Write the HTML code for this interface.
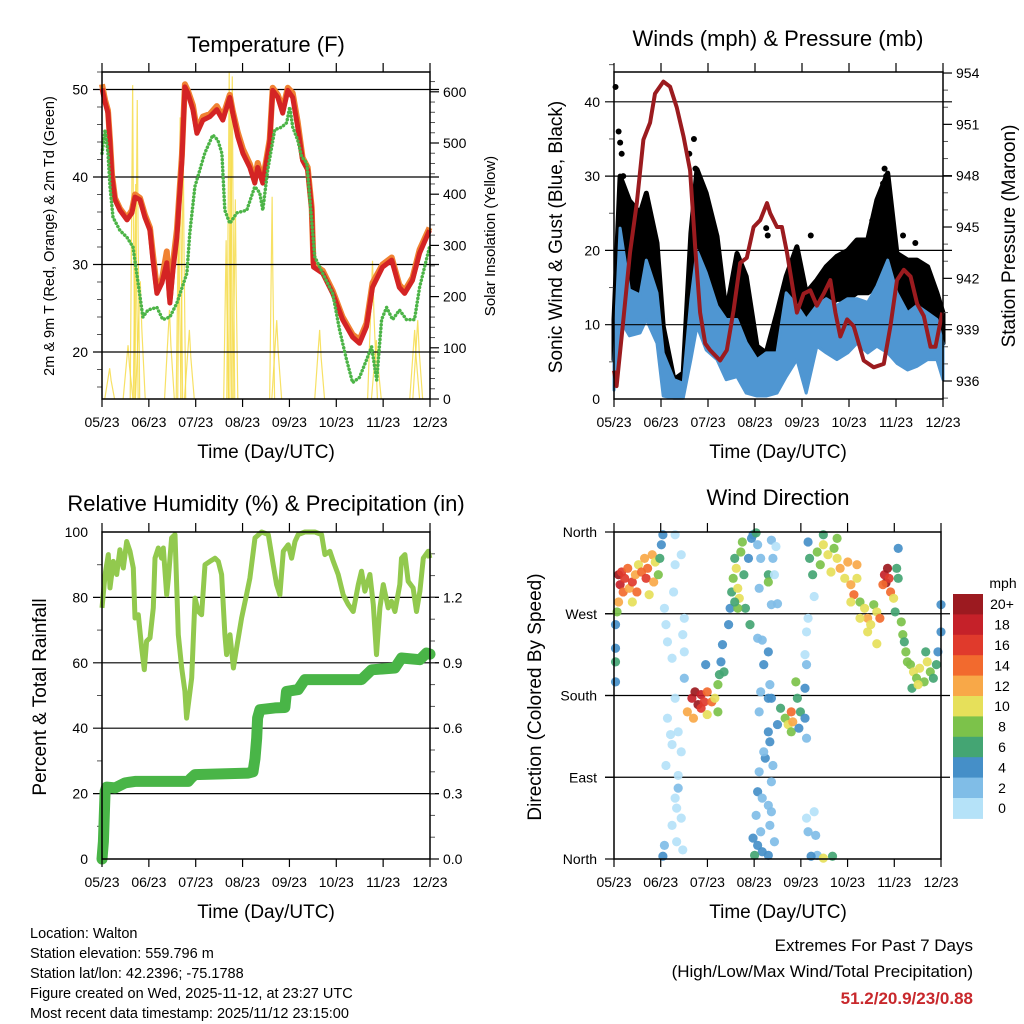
<!DOCTYPE html>
<html><head><meta charset="utf-8">
<style>
html,body{margin:0;padding:0;background:#fff;}
svg{display:block;font-family:"Liberation Sans",Arial,sans-serif;}
</style></head>
<body>
<svg id="fig" width="1024" height="1024" viewBox="0 0 1024 1024" xmlns="http://www.w3.org/2000/svg">
<rect width="1024" height="1024" fill="#fff"/>
<g id="p1"></g>
<g id="p2"></g>
<g id="p3"></g>
<g id="p4"></g>

<text x="266" y="52" font-size="22" text-anchor="middle">Temperature (F)</text>
<text x="778" y="46" font-size="22" text-anchor="middle">Winds (mph) &amp; Pressure (mb)</text>
<text x="266" y="511" font-size="22" text-anchor="middle">Relative Humidity (%) &amp; Precipitation (in)</text>
<text x="778" y="505" font-size="22" text-anchor="middle">Wind Direction</text>

<text x="266" y="458" font-size="19" text-anchor="middle">Time (Day/UTC)</text>
<text x="778" y="458" font-size="19" text-anchor="middle">Time (Day/UTC)</text>
<text x="266" y="918" font-size="19" text-anchor="middle">Time (Day/UTC)</text>
<text x="778" y="918" font-size="19" text-anchor="middle">Time (Day/UTC)</text>

<text transform="translate(54,236) rotate(-90)" font-size="14.5" text-anchor="middle">2m &amp; 9m T (Red, Orange) &amp; 2m Td (Green)</text>
<text transform="translate(495,236) rotate(-90)" font-size="15" text-anchor="middle">Solar Insolation (Yellow)</text>
<text transform="translate(562,237) rotate(-90)" font-size="19" text-anchor="middle">Sonic Wind &amp; Gust (Blue, Black)</text>
<text transform="translate(1015,236) rotate(-90)" font-size="19" text-anchor="middle">Station Pressure (Maroon)</text>
<text transform="translate(46,697) rotate(-90)" font-size="19" text-anchor="middle">Percent &amp; Total Rainfall</text>
<text transform="translate(541,697) rotate(-90)" font-size="19" text-anchor="middle">Direction (Colored By Speed)</text>

<g font-size="14.5">
<text x="30" y="938">Location: Walton</text>
<text x="30" y="958">Station elevation: 559.796 m</text>
<text x="30" y="978">Station lat/lon: 42.2396; -75.1788</text>
<text x="30" y="998">Figure created on Wed, 2025-11-12, at 23:27 UTC</text>
<text x="30" y="1018">Most recent data timestamp: 2025/11/12 23:15:00</text>
</g>
<g text-anchor="end" font-size="17">
<text x="973" y="951">Extremes For Past 7 Days</text>
<text x="973" y="977">(High/Low/Max Wind/Total Precipitation)</text>
<text x="973" y="1004" fill="#c8282c" font-weight="bold">51.2/20.9/23/0.88</text>
</g>
</svg>

<script>
// ---------- shared axis data ----------
var monthLabels = ['05/23','06/23','07/23','08/23','09/23','10/23','11/23','12/23'];
var totalDays = 214;

// ---------- temperature chart data ----------
var tempTicks = [20, 30, 40, 50];
var solarTicks = [0, 100, 200, 300, 400, 500, 600];
var redDays = [0,2,3.9,5.2,6.5,8.5,11.7,16.3,19.5,21.5,24.8,28,31.3,33.2,35.8,39.1,42.3,44.3,46.3,48.9,50,52.1,54.1,56,59.3,61.9,65.8,70.4,74.9,78.8,83.4,85.3,88.6,91.9,96.4,99.7,101.6,104.9,109.4,111.4,114.7,117.9,121.2,124.4,127.7,130.9,134.2,136.8,138,144,150.5,157,163.5,168,172.6,176.5,183,189,194,197.4,202.6,207.2,213.7];
var redTemp = [50.1,48.5,47.3,43.9,40,37.4,36.2,35.1,35.9,37.7,37.4,35.4,33.9,30.5,26.7,27.9,30.2,25.6,29.4,33.1,36.2,41.9,50.3,49.6,47.7,45,46.5,46.9,47.7,46.5,49.1,47.3,44.6,42.7,41.1,39.3,41.1,39.3,43.9,49.9,49.1,47.3,49.9,49.1,45.7,41.9,40.8,36.2,29.7,29,26.7,23.7,21.7,21,22.9,27.4,29.7,30.5,27.4,26.7,28.2,31.3,33.9];
var orangeTemp = [50.6,48.8,47.6,44.2,40.3,37.6,36.4,35.3,36.2,38,37.6,35.7,34.2,31.2,27.3,28.3,31.5,26.2,30.2,34,36.8,42.5,50.6,49.9,48.2,45.4,46.9,47.2,48.1,46.9,49.4,47.6,45.1,43.2,41.5,39.7,41.6,39.6,44.3,50.2,49.4,47.8,50.2,49.6,46.3,42.2,41.1,36.5,30,29.3,27,24,22,21.4,23.3,27.9,30,30.8,27.7,27,28.5,31.7,34.2];
var tdDays = [0,2,3.9,5.2,7.2,11.7,16.3,20.2,26.7,30,35.8,39.7,44.3,48.9,55.4,57.3,60.6,63.8,67,72.3,75.6,78.2,80.1,83.4,88,94.5,99.7,102.9,104.9,108.1,112.7,117.3,120.5,122.5,124.4,127.7,130.3,133.6,138.8,144,150.5,155,159.6,163.5,168,172.6,175.9,179.2,182.4,185.7,189.6,194.1,198.7,203.9,207.2,213.7];
var tdTemp = [42.7,45.4,42.7,38.9,35.4,33.9,33.1,32,24,24.8,25.1,23.7,24,25.6,29,33.6,38.9,40.8,42.7,44.8,44.2,42.7,36.2,34.7,35.9,36.2,38.9,38.2,36.2,40.8,45.4,45.7,46.2,48,45.7,44.2,42.3,41.6,30.9,29,26.7,22.5,19.1,16.5,17.1,19.1,20.6,16.8,23.7,25.1,23.7,24.8,23.7,23.7,27.4,32];
var solarDays = [5,17,20,22,23,25,44,50,51,53,57,81,83,84,85,87,111,114,142,176.5,179,204,206];
var solarPeak = [60,105,613,420,584,230,174,380,550,500,135,310,640,560,630,390,395,154,135,270,115,135,154];

// ---------- winds chart data ----------
var windTicks = [0, 10, 20, 30, 40];
var presTicks = [936, 939, 942, 945, 948, 951, 954];
var windDays = [0,4,10,17,21,28,32,39,45,50,54,60,67,73,80,86,93,99,106,112,119,125,132,138,145,152,158,165,171,178,184,191,197,204,210,214];
var sustHi = [5,23,14.7,14,18.7,14.3,6.2,2.6,2.1,13.4,20,17,12.5,10.7,10.7,7.6,5.3,6.2,6.2,14.3,12.6,10.7,12.6,13.5,12.6,13.5,13.5,13,15.2,18.7,14.3,11.6,12.6,11.6,10.7,7.5];
var sustLo = [1.2,10.7,8.5,8.9,10.7,7.5,0.4,0.1,0.1,5.3,9.8,6.6,5.3,2.6,3,0.8,0.4,0.4,0.8,3,5.3,0.8,7.1,6.2,5.3,6.2,7.5,6.2,7.1,6.2,4.8,3.9,4.4,5.3,5.3,2.6];
var gustHi = [10.7,30,26.7,25,27.7,21,9.8,2.6,3.5,22.3,30.9,27.7,21.9,11.6,19.6,16.5,7.1,6.2,11.6,16.5,20.5,14.3,16,17.8,19.2,20,21.4,21.4,26.8,30.4,19.6,18.7,18.7,17.8,14.3,11.6];
var gustLo = [5.3,14.3,14.3,14.3,16.5,12,5.3,1.3,1.3,14.3,18.7,16.5,13.4,7.5,10.7,7.5,3,2.2,6.2,10.7,12.5,9.8,11.6,12.5,13.4,13.4,14.3,14.3,15.2,17,11.6,10.7,10.2,9.8,8.9,7.5];
var gustPeakDays = [1,3,4,5,6,49,52,53,55,99,100,128,160,168,175,176,177,188,196];
var gustPeakVals = [42,36,34.5,33,30,33,35,31,30,23,22,22,21,24,29,31,30,22,21];
var presDays = [0,1.7,6.1,10.4,14.8,19.1,23.5,26.7,32.1,36.5,40.8,45.2,49.5,52.8,56,59.3,62.5,69,73.4,77.7,82.1,86.4,90.8,95.1,99.5,101.6,106,109.2,112.5,116.9,119,123.3,127.7,132,136.4,140.7,144,147.2,151.6,155.9,162.4,168.9,175.5,179.8,184.1,188.5,192.9,197.2,201.5,205.9,209.1,213.5];
var presVals = [936.6,935.7,939.6,943.5,946.4,950.1,951.1,952.8,953.5,953.2,952,950.3,948.3,943.8,940,938.2,937.8,937.2,937.8,940.1,942.9,943.2,945,945.4,946.4,945.8,945,945,943.5,941.1,940,941.1,941.3,940.4,941.1,941.9,940,938.6,939.6,939.2,937.2,936.8,937,939.2,941.9,942.5,942.1,940.5,939.8,938,938,940];

// ---------- humidity chart data ----------
var pctTicks = [0, 20, 40, 60, 80, 100];
var rainTicks = ['0.0','0.3','0.6','0.9','1.2'];
var rhDays = [0,2,4.1,5.2,7.4,9.6,11.7,13.9,16.1,18.3,20.4,21.5,23.7,25.9,27.6,29.1,31.3,33.5,34.6,36.7,38.9,40,42.2,43.3,45.4,47.6,49.8,52,54.1,55.2,58.5,60.7,62.8,65,67.2,70.4,73.7,75.9,78,80.2,81.3,83.5,85.7,87.8,91.1,94.3,96.5,98.7,99.8,104.1,108.5,111.7,113.9,116.1,118.3,121.5,123.7,125.9,128,132.4,138.9,143.3,145.4,148.7,150.9,154.1,157.4,160.7,163.9,167.2,169.3,171.5,174.8,177,179.1,181.3,183.5,186.7,188.9,191.1,194.3,195.4,197.6,199.8,203,205.2,207.4,209.6,212.8,213.9];
var rhVals = [76.8,87,93.1,82.9,91,87,94.6,89,97.1,94.1,89,73.7,74.7,64.5,57.9,66.6,67.6,76.8,92,95.1,92,95.1,80.8,85.9,98.2,99.2,68.6,58.4,51.3,43.1,55.4,79.8,75.7,74.7,90,91,92,91,87,68.6,62.5,68.6,58.4,64.5,73.7,80.8,85.9,94.1,98.2,100,99.2,90,83.9,80.8,94.1,96.1,92,97.1,99.2,100,100,99.2,93.1,94.1,91,87,80.8,77.8,75.7,83.9,88,81.9,87,77.8,62.5,76.8,83.9,76.8,78.8,75.7,83.9,92,93.1,84.9,82.9,75.7,81.9,92,94.1,92];
var rainDays = [0,0.9,2,3,8.5,15,21.5,38.9,56.3,58,60.7,95.4,98.5,99.8,100.9,101.5,103,112.8,119.3,120.4,128,132.4,169.3,175.9,191.1,195.4,207.4,211.7,214];
var rainVals = [0,0.08,0.31,0.33,0.326,0.349,0.356,0.356,0.356,0.37,0.387,0.394,0.40,0.46,0.555,0.647,0.685,0.693,0.695,0.769,0.777,0.823,0.823,0.868,0.876,0.922,0.914,0.945,0.94];

// ---------- wind direction chart data ----------
var dirLabels = ['North','East','South','West','North'];
var speedLabels = ['0','2','4','6','8','10','12','14','16','18','20+'];
var speedColors = ['#b5e2f8','#80bde7','#458fc8','#44a573','#7cc24a','#e6e05a','#f8a848','#f26a2e','#e03a2c','#c52129','#9c1a20'];
var dirDays = [3,4,5,6,7,9,10,12,14,15,16,18,20,21,22,25,26,27,29,30,31,32,2,1,1,1,1,3,12,23,
33,34,35,38,40,39,44,46,45,46,40,35,37,42,44,34,42,40,44,38,41,45,33,32,42,46,40,41,38,
51,53,55,57,59,61,64,48,52,57,66,68,61,68,60,69,70,71,72,
75,76,77,78,79,80,81,82,83,84,85,86,88,89,90,91,93,81,79,
94,96,103,104,106,101,101,103,107,105,95,
94,97,101,98,102,101,103,96,95,101,102,99,95,94,103,97,101,93,103,91,94,97,101,96,105,104,98,92,102,
109,112,114,116,117,119,120,122,125,125,107,116,121,126,126,125,126,127,131,
126,127,131,132,133,129,137,143,
127,128,130,133,135,137,140,142,144,146,148,151,153,155,157,159,161,164,166,168,170,172,174,166,172,146,137,155,161,159,
177,179,178,180,181,176,183,185,186,
184,188,189,190,191,192,194,196,198,200,203,205,207,209,211,212,214,214,195,199,204,186];
var dirDeg = [313,302,316,294,309,320,298,305,313,294,324,316,331,309,320,335,305,327,313,331,346,357,272,258,232,217,195,283,283,291,
276,258,239,221,324,294,335,265,247,228,177,155,137,140,118,103,92,67,45,37,19,10,15,3,78,199,357,56,126,
177,184,170,181,173,184,173,162,155,166,177,162,159,192,214,203,217,236,206,
258,276,294,309,331,320,298,287,338,349,313,276,331,258,353,357,359,276,283,
346,331,351,331,344,313,305,280,281,313,298,
243,241,228,214,192,177,177,184,162,140,129,111,96,74,85,67,59,48,52,23,15,8,4,30,19,103,118,4,37,
166,155,148,162,151,195,177,162,188,155,148,140,144,133,214,225,250,265,289,
45,30,52,26,4,3,1,3,
349,331,313,338,324,346,335,316,342,331,320,309,327,302,291,309,283,276,265,258,280,272,265,250,237,353,357,283,265,324,
313,320,304,309,294,302,287,320,309,
272,261,247,239,228,217,214,206,199,210,195,217,206,199,214,228,250,280,188,192,228,342];
var dirSpeed = [20,18,16,14,16,14,12,16,12,14,10,14,12,16,14,12,12,10,8,6,4,4,8,4,4,6,4,12,10,10,
0,0,0,0,0,0,0,0,0,0,0,0,0,0,0,0,0,0,0,0,0,0,2,4,2,2,0,0,0,
18,20,20,18,16,14,14,12,12,16,10,8,10,8,4,6,4,4,6,
4,4,6,8,6,10,10,10,8,8,6,6,4,6,4,4,6,8,6,
2,2,2,2,0,6,8,2,2,0,2,
2,2,4,4,2,4,4,2,2,4,4,4,2,4,2,2,2,2,2,4,4,4,4,2,2,2,2,6,2,
6,8,10,14,12,8,6,6,4,4,4,8,4,2,2,0,0,0,0,
0,2,0,2,2,4,10,6,
4,6,6,8,8,10,10,10,8,10,12,10,12,12,14,10,8,10,12,10,8,10,14,10,10,8,6,10,10,12,
18,20,20,16,14,14,10,6,6,
6,8,8,6,8,8,8,10,8,10,8,10,8,6,6,4,4,4,6,10,6,4];
</script>

<script>
var NS = 'http://www.w3.org/2000/svg';
function mk(parent, tag, attrs) {
  var el = document.createElementNS(NS, tag);
  for (var k in attrs) el.setAttribute(k, attrs[k]);
  parent.appendChild(el);
  return el;
}
function pathFrom(xs, ys) {
  var d = '';
  for (var i = 0; i < xs.length; i++) d += (i ? 'L' : 'M') + xs[i].toFixed(1) + ',' + ys[i].toFixed(1);
  return d;
}
function drawFrame(g, x0, x1, y0, y1, name) {
  var r = mk(g, 'rect', {x: x0, y: y0, width: x1 - x0, height: y1 - y0, fill: 'none', stroke: '#000', 'stroke-width': 1.5});
  
  
}
function drawXAxis(g, x0, x1, y0, y1, name) {
  for (var i = 0; i < monthLabels.length; i++) {
    var x = x0 + i * (x1 - x0) / (monthLabels.length - 1);
    var t = mk(g, 'line', {x1: x, x2: x, y1: y1, y2: y1 + 8, stroke: '#000', 'stroke-width': 1.2});
    
    
    var t2 = mk(g, 'line', {x1: x, x2: x, y1: y0 - 9, y2: y0, stroke: '#000', 'stroke-width': 1.2});
    
    
    var lb = mk(g, 'text', {x: x, y: y1 + 28, 'font-size': 14, 'text-anchor': 'middle'});
    lb.textContent = monthLabels[i];
    
    
  }
}
function grid(g, x0, x1, y, name) {
  var l = mk(g, 'line', {x1: x0 - 9, x2: x1 + 9, y1: y, y2: y, stroke: '#000', 'stroke-width': 1.2});
  
  
}
function ylabel(g, x, y, txt, anchor, name) {
  var lb = mk(g, 'text', {x: x, y: y + 5, 'font-size': 14, 'text-anchor': anchor});
  lb.textContent = txt;
  
  
}
function minorTick(g, x, y, dir, name) {
  var l = mk(g, 'line', {x1: x, x2: x + dir * 5, y1: y, y2: y, stroke: '#555', 'stroke-width': 1});
  
  
}

// ===== Panel 1: Temperature =====
(function () {
  var g = document.getElementById('p1');
  var X0 = 102, X1 = 430, Y0 = 72, Y1 = 399;
  function xs(d) { return X0 + d * (X1 - X0) / totalDays; }
  function yT(t) { return 352 - (t - 20) * 8.75; }
  function yS(v) { return Y1 - v * 0.512; }
  for (var i = 0; i < solarDays.length; i++) {
    var d = solarDays[i], w = solarPeak[i] > 300 ? 1.6 : 3.2;
    var sp = mk(g, 'path', {d: 'M' + xs(d - w) + ',' + Y1 + 'L' + xs(d - w * 0.3) + ',' + yS(solarPeak[i] * 0.7) + 'L' + xs(d) + ',' + yS(solarPeak[i]) + 'L' + xs(d + w * 0.3) + ',' + yS(solarPeak[i] * 0.6) + 'L' + xs(d + w) + ',' + Y1, fill: 'none', stroke: '#f6dc4a', 'stroke-width': 1.2, opacity: 0.85});
    
    
  }
  for (var k = 0; k < tempTicks.length; k++) {
    grid(g, X0, X1, yT(tempTicks[k]), 'temperature');
    ylabel(g, X0 - 14, yT(tempTicks[k]), String(tempTicks[k]), 'end', 'temperature-y-tick-label');
  }
  for (var t = 16; t <= 52; t += 2) if (t % 10) minorTick(g, X0, yT(t), -1, 'temperature-minor-tick');
  for (var s = 0; s < solarTicks.length; s++) {
    var y = yS(solarTicks[s]);
    var tk = mk(g, 'line', {x1: X1, x2: X1 + 9, y1: y, y2: y, stroke: '#000', 'stroke-width': 1.2});
    
    
    ylabel(g, X1 + 13, y, String(solarTicks[s]), 'start', 'solar-y-tick-label');
  }
  for (var v = 20; v <= 620; v += 20) if (v % 100) minorTick(g, X1, yS(v), 1, 'solar-minor-tick');
  var orange = mk(g, 'path', {d: pathFrom(redDays.map(xs), orangeTemp.map(yT)), fill: 'none', stroke: '#f08232', 'stroke-width': 6, 'stroke-linejoin': 'round'});
  
  
  var red = mk(g, 'path', {d: pathFrom(redDays.map(xs), redTemp.map(yT)), fill: 'none', stroke: '#d42424', 'stroke-width': 5, 'stroke-linejoin': 'round'});
  
  
  var td = mk(g, 'path', {d: pathFrom(tdDays.map(xs), tdTemp.map(yT)), fill: 'none', stroke: '#4cb447', 'stroke-width': 3.5, 'stroke-dasharray': '0.1 3.6', 'stroke-linecap': 'round', 'stroke-linejoin': 'round'});
  
  
  drawFrame(g, X0, X1, Y0, Y1, 'temperature');
  drawXAxis(g, X0, X1, Y0, Y1, 'temperature');
})();

// ===== Panel 2: Winds =====
(function () {
  var g = document.getElementById('p2');
  var X0 = 614, X1 = 943, Y0 = 72, Y1 = 399;
  function xs(d) { return X0 + d * (X1 - X0) / totalDays; }
  function yW(v) { return Y1 - v * 7.43; }
  function yP(p) { return 381 - (p - 936) * 17.11; }
  var wx = windDays.map(xs);
  var gb = mk(g, 'path', {d: pathFrom(wx, gustHi.map(yW)) + pathFrom(wx.slice().reverse(), gustLo.map(yW).reverse()).replace('M', 'L') + 'Z', fill: '#000', stroke: '#000', 'stroke-width': 5, 'stroke-linejoin': 'round'});
  
  
  for (var i = 0; i < gustPeakDays.length; i++) {
    var c = mk(g, 'circle', {cx: xs(gustPeakDays[i]), cy: yW(gustPeakVals[i]), r: 3, fill: '#000'});
    
    
  }
  var sb = mk(g, 'path', {d: pathFrom(wx, sustHi.map(yW)) + pathFrom(wx.slice().reverse(), sustLo.map(yW).reverse()).replace('M', 'L') + 'Z', fill: '#4f96d2', stroke: '#4f96d2', 'stroke-width': 3, 'stroke-linejoin': 'round'});
  
  
  for (var k = 0; k < windTicks.length; k++) {
    if (windTicks[k] > 0) grid(g, X0, X1, yW(windTicks[k]), 'wind');
    ylabel(g, X0 - 14, yW(windTicks[k]), String(windTicks[k]), 'end', 'wind-y-tick-label');
  }
  for (var m = 5; m <= 45; m += 10) minorTick(g, X0, yW(m), -1, 'wind-minor-tick');
  for (var p = 0; p < presTicks.length; p++) {
    var y = yP(presTicks[p]);
    var tk = mk(g, 'line', {x1: X1, x2: X1 + 9, y1: y, y2: y, stroke: '#000', 'stroke-width': 1.2});
    
    
    ylabel(g, X1 + 13, y, String(presTicks[p]), 'start', 'pressure-y-tick-label');
  }
  for (var q = 935; q <= 954; q++) if ((q - 936) % 3) minorTick(g, X1, yP(q), 1, 'pressure-minor-tick');
  var pl = mk(g, 'path', {d: pathFrom(presDays.map(xs), presVals.map(yP)), fill: 'none', stroke: '#9b1b1f', 'stroke-width': 4, 'stroke-linejoin': 'round'});
  
  
  drawFrame(g, X0, X1, Y0, Y1, 'winds');
  drawXAxis(g, X0, X1, Y0, Y1, 'winds');
})();

// ===== Panel 3: Humidity =====
(function () {
  var g = document.getElementById('p3');
  var X0 = 102, X1 = 430, Y0 = 532, Y1 = 859;
  function xs(d) { return X0 + d * (X1 - X0) / totalDays; }
  function yR(v) { return Y1 - v * 3.27; }
  function yIn(v) { return Y1 - v * 218; }
  for (var k = 0; k < pctTicks.length; k++) {
    if (pctTicks[k] > 0 && pctTicks[k] < 100) grid(g, X0, X1, yR(pctTicks[k]), 'humidity');
    ylabel(g, X0 - 14, yR(pctTicks[k]), String(pctTicks[k]), 'end', 'humidity-y-tick-label');
  }
  for (var m = 10; m <= 90; m += 20) minorTick(g, X0, yR(m), -1, 'humidity-minor-tick');
  for (var r = 0; r < rainTicks.length; r++) {
    var y = yIn(parseFloat(rainTicks[r]));
    var tk = mk(g, 'line', {x1: X1, x2: X1 + 9, y1: y, y2: y, stroke: '#000', 'stroke-width': 1.2});
    
    
    ylabel(g, X1 + 13, y, rainTicks[r], 'start', 'rain-y-tick-label');
  }
  for (var q = 0.1; q < 1.5; q += 0.1) minorTick(g, X1, yIn(q), 1, 'rain-minor-tick');
  var rh = mk(g, 'path', {d: pathFrom(rhDays.map(xs), rhVals.map(yR)), fill: 'none', stroke: '#92c94e', 'stroke-width': 5, 'stroke-linejoin': 'round'});
  
  
  var pr = mk(g, 'path', {d: pathFrom(rainDays.map(xs), rainVals.map(yIn)), fill: 'none', stroke: '#49b547', 'stroke-width': 11, 'stroke-linejoin': 'round', 'stroke-linecap': 'round'});
  
  
  drawFrame(g, X0, X1, Y0, Y1, 'humidity');
  drawXAxis(g, X0, X1, Y0, Y1, 'humidity');
})();

// ===== Panel 4: Wind direction =====
(function () {
  var g = document.getElementById('p4');
  var X0 = 614, X1 = 941, Y0 = 532, Y1 = 859;
  function xs(d) { return X0 + d * (X1 - X0) / totalDays; }
  function yD(deg) { return Y1 - deg * (Y1 - Y0) / 360; }
  for (var k = 0; k < dirLabels.length; k++) {
    var y = yD(k * 90);
    if (k > 0 && k < 4) grid(g, X0, X1, y, 'direction');
    var tk = mk(g, 'line', {x1: X0 - 9, x2: X0, y1: y, y2: y, stroke: '#000', 'stroke-width': 1.2});
    
    
    ylabel(g, X0 - 17, y, dirLabels[k], 'end', 'direction-y-tick-label');
  }
  for (var i = 0; i < dirDays.length; i++) {
    var ci = Math.min(10, Math.floor(dirSpeed[i] / 2));
    var c = mk(g, 'circle', {cx: xs(dirDays[i]), cy: yD(dirDeg[i]), r: 4.6, fill: speedColors[ci], opacity: 0.92});
    
    
  }
  drawFrame(g, X0, X1, Y0, Y1, 'direction');
  drawXAxis(g, X0, X1, Y0, Y1, 'direction');
  var cb = mk(g, 'g', {});
  
  
  var top = 594, h = 20.4;
  var title = mk(cb, 'text', {x: 1003, y: 588, 'font-size': 14, 'text-anchor': 'middle'});
  title.textContent = 'mph';
  
  
  for (var j = 0; j < speedLabels.length; j++) {
    var idx = speedLabels.length - 1 - j;
    var rc = mk(cb, 'rect', {x: 953, y: top + j * h, width: 30, height: h + 0.5, fill: speedColors[idx]});
    
    
    var lb = mk(cb, 'text', {x: 1002, y: top + j * h + h / 2 + 5, 'font-size': 14, 'text-anchor': 'middle'});
    lb.textContent = speedLabels[idx];
    
    
  }
})();
</script>
</body></html>
